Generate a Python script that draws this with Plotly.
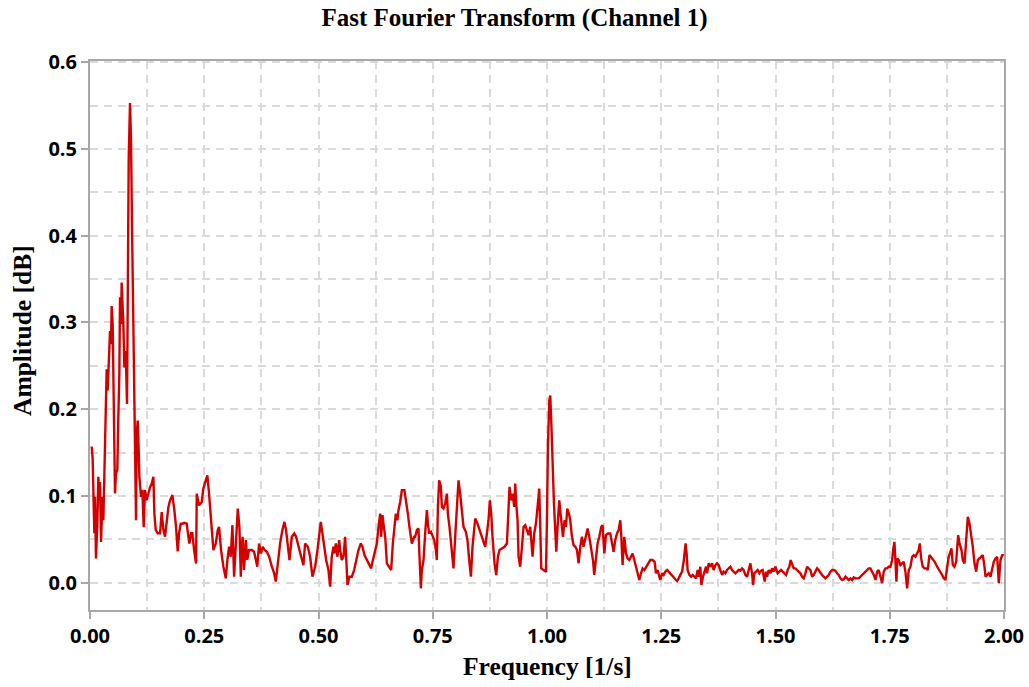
import plotly.graph_objects as go

# ---- data ----
freq = [
    0.0037, 0.0058, 0.0095, 0.0109, 0.0131, 0.0161, 0.0182, 0.0204, 0.0219, 0.0241,
    0.0277, 0.0292, 0.0314, 0.0343, 0.0365, 0.0387, 0.0416, 0.0438, 0.0460, 0.0474,
    0.0496, 0.0533, 0.0547, 0.0569, 0.0598, 0.0620, 0.0642, 0.0657, 0.0679, 0.0693,
    0.0715, 0.0730, 0.0752, 0.0781, 0.0810, 0.0825, 0.0847, 0.0876, 0.0898, 0.0920,
    0.0949, 0.0971, 0.1007, 0.1022, 0.1044, 0.1066, 0.1080, 0.1117, 0.1146, 0.1175,
    0.1204, 0.1240, 0.1277, 0.1314, 0.1350, 0.1387, 0.1408, 0.1438, 0.1481, 0.1533,
    0.1569, 0.1606, 0.1642, 0.1679, 0.1715, 0.1752, 0.1803, 0.1846, 0.1883, 0.1919,
    0.1949, 0.1985, 0.2021, 0.2065, 0.2116, 0.2153, 0.2175, 0.2211, 0.2240, 0.2277,
    0.2321,
    0.2336, 0.2386, 0.2445, 0.2480, 0.2533, 0.2568, 0.2605, 0.2649, 0.2700, 0.2752,
    0.2796, 0.2824, 0.2868, 0.2919, 0.2971, 0.3006, 0.3043, 0.3080, 0.3116, 0.3153,
    0.3190, 0.3234, 0.3269, 0.3300, 0.3320, 0.3340, 0.3370, 0.3410, 0.3440, 0.3480,
    0.3540, 0.3590, 0.3630, 0.3660, 0.3700, 0.3740, 0.3780, 0.3820, 0.3870, 0.3920,
    0.3980, 0.4030, 0.4065, 0.4110, 0.4160, 0.4210, 0.4255, 0.4290, 0.4330, 0.4365,
    0.4416, 0.4470, 0.4510, 0.4560, 0.4620, 0.4670,
    0.4707, 0.4766, 0.4817, 0.4867, 0.4926, 0.4977, 0.5014, 0.5050, 0.5086, 0.5123,
    0.5167, 0.5218, 0.5255, 0.5290, 0.5327, 0.5349, 0.5379, 0.5415, 0.5452, 0.5474,
    0.5510, 0.5546, 0.5583, 0.5605, 0.5634, 0.5678, 0.5730, 0.5780, 0.5824, 0.5875,
    0.5926, 0.5962, 0.6006, 0.6058, 0.6108, 0.6152, 0.6190, 0.6240, 0.6277, 0.6312,
    0.6350, 0.6370, 0.6400, 0.6430, 0.6460, 0.6496, 0.6546, 0.6590, 0.6627, 0.6663,
    0.6692, 0.6728, 0.6750, 0.6787, 0.6824, 0.6880, 0.6918, 0.6955, 0.6990, 0.7043,
    0.7094,
    0.7115, 0.7152, 0.7188, 0.7210, 0.7240, 0.7262, 0.7298, 0.7334, 0.7372, 0.7394,
    0.7422, 0.7460, 0.7494, 0.7532, 0.7569, 0.7590, 0.7613, 0.7641, 0.7678, 0.7700,
    0.7735, 0.7772, 0.7810, 0.7831, 0.7866, 0.7897, 0.7932, 0.7954, 0.7991, 0.8028,
    0.8064, 0.8100, 0.8138, 0.8173, 0.8225, 0.8260, 0.8298, 0.8335, 0.8370, 0.8407,
    0.8429, 0.8466, 0.8501, 0.8539, 0.8576, 0.8610, 0.8648, 0.8685, 0.8720, 0.8750,
    0.8780, 0.8808, 0.8852, 0.8889, 0.8926, 0.8961, 0.9014, 0.9070, 0.9123, 0.9158,
    0.9180, 0.9210, 0.9246, 0.9283, 0.9305, 0.9327, 0.9356, 0.9378, 0.9414, 0.9452,
    0.9487,
    0.9524, 0.9560, 0.9597, 0.9633, 0.9655, 0.9684, 0.9721, 0.9758, 0.9794, 0.9830,
    0.9852, 0.9874, 0.9925, 0.9977, 0.9999, 1.0020, 1.0050, 1.0071, 1.0093, 1.0108,
    1.0130, 1.0152, 1.0180, 1.0203, 1.0231, 1.0268, 1.0297, 1.0327, 1.0349, 1.0385,
    1.0415, 1.0443, 1.0480, 1.0509, 1.0546, 1.0582, 1.0619, 1.0656, 1.0691, 1.0728,
    1.0765, 1.0800, 1.0837, 1.0888, 1.0925, 1.0962, 1.1006, 1.1034, 1.1071, 1.1107,
    1.1144, 1.1188, 1.1216, 1.1254, 1.1290, 1.1334, 1.1385, 1.1422, 1.1457, 1.1494,
    1.1531, 1.1567, 1.1604, 1.1626, 1.1654, 1.1691, 1.1729, 1.1764, 1.1801, 1.1838,
    1.1873, 1.1910, 1.1947, 1.1983, 1.2020, 1.2057, 1.2092, 1.2129,
    1.2188, 1.2223, 1.2261, 1.2311, 1.2355, 1.2385, 1.2421, 1.2458, 1.2480, 1.2517,
    1.2552, 1.2589, 1.2626, 1.2661, 1.2698, 1.2736, 1.2771, 1.2808, 1.2845, 1.2880,
    1.2917, 1.2955, 1.2990, 1.3012, 1.3033, 1.3055, 1.3077, 1.3114, 1.3152, 1.3187,
    1.3224, 1.3261, 1.3296, 1.3318, 1.3355, 1.3377, 1.3414, 1.3449, 1.3480, 1.3502,
    1.3537, 1.3574, 1.3612, 1.3647, 1.3684, 1.3721, 1.3756, 1.3793, 1.3831, 1.3865,
    1.3903, 1.3940, 1.3975, 1.4012, 1.4050, 1.4084, 1.4122, 1.4159, 1.4194, 1.4231,
    1.4268, 1.4303,
    1.4340, 1.4378, 1.4413, 1.4450, 1.4487, 1.4509, 1.4537, 1.4575, 1.4610, 1.4647,
    1.4684, 1.4719, 1.4741, 1.4763, 1.4794, 1.4816, 1.4851, 1.4888, 1.4925, 1.4960,
    1.4997, 1.5019, 1.5048, 1.5085, 1.5122, 1.5157, 1.5194, 1.5232, 1.5267, 1.5304,
    1.5332, 1.5363, 1.5398, 1.5435, 1.5472, 1.5507, 1.5545, 1.5582, 1.5617, 1.5654,
    1.5691, 1.5726, 1.5764, 1.5801, 1.5836, 1.5873, 1.5910, 1.5945, 1.5983, 1.6020,
    1.6055, 1.6092, 1.6129, 1.6164, 1.6201, 1.6239, 1.6273, 1.6311, 1.6348, 1.6383,
    1.6420, 1.6458, 1.6492, 1.6530, 1.6567, 1.6602, 1.6639, 1.6677, 1.6711,
    1.6749, 1.6822, 1.6895, 1.6968, 1.7040, 1.7077, 1.7114, 1.7150, 1.7187, 1.7224,
    1.7259, 1.7281, 1.7311, 1.7333, 1.7368, 1.7406, 1.7443, 1.7478, 1.7515, 1.7552,
    1.7574, 1.7602, 1.7624, 1.7646, 1.7668, 1.7697, 1.7734, 1.7771, 1.7806, 1.7843,
    1.7880, 1.7916, 1.7953, 1.7990, 1.8025, 1.8062, 1.8099, 1.8134, 1.8157, 1.8187,
    1.8222, 1.8259, 1.8296, 1.8332, 1.8369, 1.8428, 1.8485, 1.8537, 1.8588, 1.8647,
    1.8682, 1.8719, 1.8757, 1.8791, 1.8829, 1.8850, 1.8880, 1.8916, 1.8953, 1.8975,
    1.8997, 1.9026, 1.9070, 1.9098, 1.9135, 1.9157, 1.9179, 1.9208, 1.9245, 1.9282,
    1.9317, 1.9354, 1.9391, 1.9427, 1.9464, 1.9501, 1.9536, 1.9573, 1.9595, 1.9632,
    1.9667, 1.9704, 1.9742, 1.9777, 1.9814, 1.9851, 1.9886, 1.9923, 1.9960, 1.9996,
]

amplitude = [
    0.157, 0.143, 0.057, 0.099, 0.028, 0.068, 0.122, 0.095, 0.116, 0.047,
    0.099, 0.072, 0.124, 0.199, 0.246, 0.2215, 0.260, 0.290, 0.275, 0.319,
    0.298, 0.172, 0.103, 0.126, 0.130, 0.191, 0.241, 0.329, 0.298, 0.346,
    0.321, 0.298, 0.248, 0.267, 0.206, 0.375, 0.490, 0.553, 0.509, 0.409,
    0.310, 0.2215, 0.072, 0.170, 0.187, 0.152, 0.122, 0.099, 0.107, 0.064,
    0.107, 0.095, 0.103, 0.110, 0.114, 0.122, 0.080, 0.061, 0.057, 0.057,
    0.0815, 0.061, 0.053, 0.072, 0.087, 0.095, 0.101, 0.0835, 0.064, 0.036,
    0.057, 0.068, 0.068, 0.069, 0.068, 0.053, 0.045, 0.057, 0.057, 0.038,
    0.022,
    0.1027, 0.0893, 0.0931, 0.1085, 0.1180, 0.1238, 0.1027, 0.0682, 0.0376, 0.0452,
    0.0606, 0.0644, 0.0376, 0.0184, 0.0050, 0.0261, 0.0414, 0.0299, 0.0663, 0.0069,
    0.0491, 0.0855, 0.0644, 0.0069, 0.0414, 0.0529, 0.0146, 0.0491, 0.0261, 0.0376,
    0.0376, 0.0356, 0.0261, 0.0184, 0.0452, 0.0337, 0.0414, 0.0376, 0.0356, 0.0299,
    0.0184, 0.0107, 0.0012, 0.0261, 0.0452, 0.0606, 0.0701, 0.0606, 0.0414, 0.0261,
    0.0529, 0.0567, 0.0529, 0.0414, 0.0299, 0.0203,
    0.0452, 0.0414, 0.0299, 0.0069, 0.0184, 0.0376, 0.0529, 0.0701, 0.0567, 0.0414,
    0.0261, 0.0146, -0.0046, 0.0299, 0.0414, 0.0337, 0.0452, 0.0299, 0.0491, 0.0376,
    0.0261, 0.0299, 0.0529, 0.0299, -0.0027, 0.0069, 0.0069, 0.0146, 0.0261, 0.0376,
    0.0452, 0.0414, 0.0318, 0.0261, 0.0203, 0.0165, 0.0261, 0.0376, 0.0452, 0.0644,
    0.0797, 0.0529, 0.0778, 0.0644, 0.0529, 0.0222, 0.0184, 0.0146, 0.0452, 0.0682,
    0.0797, 0.0720, 0.0836, 0.0931, 0.1065, 0.1065, 0.0950, 0.0797, 0.0644, 0.0452,
    0.0529,
    0.0529, 0.0606, 0.0625, 0.0299, -0.0065, 0.0146, 0.0261, 0.0567, 0.0836, 0.0682,
    0.0567, 0.0586, 0.0548, 0.0491, 0.0376, 0.0261, 0.0874, 0.1180, 0.1104, 0.0874,
    0.0855, 0.0912, 0.1027, 0.0797, 0.0644, 0.0491, 0.0261, 0.0165, 0.0529, 0.0874,
    0.1180, 0.1027, 0.0797, 0.0644, 0.0586, 0.0491, 0.0261, 0.0069, 0.0414, 0.0682,
    0.0740, 0.0701, 0.0644, 0.0586, 0.0510, 0.0452, 0.0414, 0.0567, 0.0720, 0.0950,
    0.0797, 0.0529, 0.0222, 0.0088, 0.0299, 0.0376, 0.0395, 0.0414, 0.0452, 0.0874,
    0.1104, 0.0950, 0.1027, 0.0874, 0.1142, 0.0912, 0.0720, 0.0299, 0.0184, 0.0414,
    0.0644,
    0.0663, 0.0606, 0.0548, 0.0644, 0.0529, 0.0299, 0.0567, 0.0682, 0.0874, 0.1085,
    0.0644, 0.0165, 0.0146, 0.0127, 0.0720, 0.1563, 0.2100, 0.2157, 0.1870, 0.1563,
    0.1333, 0.0912, 0.0606, 0.0356, 0.0644, 0.0950, 0.0797, 0.0644, 0.0529, 0.0720,
    0.0644, 0.0855, 0.0797, 0.0720, 0.0529, 0.0433, 0.0414, 0.0376, 0.0222, 0.0414,
    0.0529, 0.0414, 0.0490, 0.0625, 0.0529, 0.0414, 0.0261, 0.0089, 0.0299, 0.0452,
    0.0529, 0.0644, 0.0663, 0.0337, 0.0548, 0.0567, 0.0567, 0.0452, 0.0356, 0.0490,
    0.0567, 0.0606, 0.0720, 0.0529, 0.0203, 0.0529, 0.0337, 0.0280, 0.0261, 0.0299,
    0.0337, 0.0261, 0.0184, 0.0108, 0.0030, 0.0108, 0.0165, 0.0146,
    0.0203, 0.0223, 0.0261, 0.0261, 0.0241, 0.0108, 0.0146, 0.0069, 0.0031, 0.0108,
    0.0089, 0.0127, 0.0146, 0.0127, 0.0108, 0.0089, 0.0062, 0.0039, 0.0019, 0.0050,
    0.0089, 0.0127, 0.0241, 0.0376, 0.0453, 0.0337, 0.0146, 0.0089, 0.0069, 0.0089,
    0.0069, 0.0050, 0.0146, 0.0069, 0.0184, -0.0027, 0.0069, 0.0146, 0.0184, 0.0108,
    0.0223, 0.0184, 0.0223, 0.0146, 0.0203, 0.0223, 0.0203, 0.0146, 0.0089, 0.0127,
    0.0108, 0.0146, 0.0165, 0.0184, 0.0146, 0.0127, 0.0108, 0.0127, 0.0146, 0.0138,
    0.0165, 0.0146,
    0.0089, 0.0069, 0.0165, 0.0223, 0.0108, -0.0027, 0.0108, 0.0127, 0.0146, 0.0108,
    0.0138, 0.0146, 0.0089, 0.0012, 0.0127, 0.0069, 0.0146, 0.0108, 0.0165, 0.0127,
    0.0184, 0.0146, 0.0108, 0.0127, 0.0146, 0.0127, 0.0108, 0.0089, 0.0146, 0.0184,
    0.0261, 0.0203, 0.0165, 0.0165, 0.0146, 0.0127, 0.0108, 0.0069, 0.0050, 0.0108,
    0.0184, 0.0165, 0.0146, 0.0069, 0.0089, 0.0127, 0.0165, 0.0146, 0.0108, 0.0089,
    0.0069, 0.0050, 0.0069, 0.0089, 0.0127, 0.0146, 0.0146, 0.0138, 0.0108, 0.0089,
    0.0050, 0.0031, 0.0039, 0.0069, 0.0050, 0.0031, 0.0050, 0.0031, 0.0062,
    0.0050, 0.0050, 0.0089, 0.0127, 0.0165, 0.0165, 0.0127, 0.0089, 0.0031, 0.0127,
    0.0146, 0.0089, 0.0031, -0.0007, 0.0127, 0.0165, 0.0165, 0.0184, 0.0184, 0.0261,
    0.0376, 0.0471, 0.0261, 0.0012, 0.0280, 0.0261, 0.0203, 0.0223, 0.0241, 0.0127,
    -0.0065, 0.0146, 0.0184, 0.0299, 0.0318, 0.0299, 0.0337, 0.0376, 0.0453, 0.0280,
    0.0184, 0.0165, 0.0165, 0.0146, 0.0318, 0.0280, 0.0241, 0.0184, 0.0146, 0.0089,
    0.0050, 0.0031, 0.0184, 0.0299, 0.0357, 0.0395, 0.0203, 0.0184, 0.0241, 0.0376,
    0.0548, 0.0453, 0.0376, 0.0261, 0.0223, 0.0376, 0.0586, 0.0759, 0.0683, 0.0567,
    0.0414, 0.0223, 0.0127, 0.0261, 0.0280, 0.0299, 0.0318, 0.0184, 0.0069, 0.0089,
    0.0108, 0.0069, 0.0184, 0.0241, 0.0280, 0.0299, -0.0007, 0.0261, 0.0318, 0.0318,
]

assert len(freq) == len(amplitude), (len(freq), len(amplitude))

x_tick_vals = [0.0, 0.25, 0.5, 0.75, 1.0, 1.25, 1.5, 1.75, 2.0]
x_tick_text = ["0.00", "0.25", "0.50", "0.75", "1.00", "1.25", "1.50", "1.75", "2.00"]
y_tick_vals = [0.0, 0.1, 0.2, 0.3, 0.4, 0.5, 0.6]
y_tick_text = ["0.0", "0.1", "0.2", "0.3", "0.4", "0.5", "0.6"]

AXIS_GRAY = "#a8a8a8"
GRID_GRAY = "#dadada"
GRID_DASH = "8px,6px"
SERIF = "Liberation Serif, Times New Roman, serif"
TICK_FONT = dict(family="Open Sans, Segoe UI, sans-serif", size=20, color="#000000", weight="bold")
TITLE_FONT = dict(family=SERIF, size=25, color="#000000", weight="bold")
AXIS_TITLE_FONT = dict(family=SERIF, size=25.5, color="#000000", weight="bold")

fig = go.Figure(
    go.Scatter(
        x=freq, y=amplitude, mode="lines",
        line=dict(color="#d40000", width=2.4),
        hoverinfo="x+y",
    )
)

common_axis = dict(
    showline=True, linecolor=AXIS_GRAY, linewidth=2, mirror=True,
    ticks="outside", ticklen=7, tickwidth=1.5, tickcolor=AXIS_GRAY,
    showgrid=True, gridcolor=GRID_GRAY, gridwidth=1.5, griddash=GRID_DASH,
    zeroline=False, tickfont=TICK_FONT, automargin=False,
)

fig.update_xaxes(
    range=[0, 2], tickmode="array", tickvals=x_tick_vals, ticktext=x_tick_text,
    minor=dict(tick0=0, dtick=0.125, showgrid=True, gridcolor=GRID_GRAY,
               gridwidth=1.5, griddash=GRID_DASH, ticks=""),
    **common_axis,
)
fig.update_yaxes(
    range=[-0.0315, 0.6015], tickmode="array", tickvals=y_tick_vals, ticktext=y_tick_text,
    minor=dict(tick0=0, dtick=0.05, showgrid=True, gridcolor=GRID_GRAY,
               gridwidth=1.5, griddash=GRID_DASH, ticks=""),
    **common_axis,
)

fig.update_layout(
    width=1029, height=687,
    margin=dict(l=90, r=25, t=61, b=77, autoexpand=False),
    paper_bgcolor="white", plot_bgcolor="white",
    showlegend=False,
    title=dict(
        text="Fast Fourier Transform (Channel 1)",
        x=0.5, xref="container", xanchor="center",
        y=1 - 17 / 687, yref="container", yanchor="middle",
        font=TITLE_FONT,
    ),
    annotations=[
        dict(text="Frequency [1/s]", xref="paper", yref="paper",
             x=0.5, y=-(667 - 610) / 549, xanchor="center", yanchor="middle",
             showarrow=False, font=AXIS_TITLE_FONT),
        dict(text="Amplitude [dB]", xref="paper", yref="paper",
             x=-(90 - 22) / 914, y=(610 - 331) / 549, xanchor="center", yanchor="middle",
             textangle=-90, showarrow=False, font=AXIS_TITLE_FONT),
    ],
)

fig.write_html("out.html")
